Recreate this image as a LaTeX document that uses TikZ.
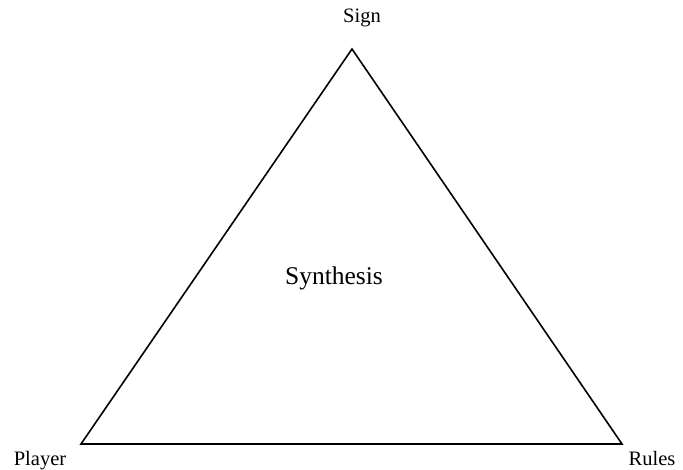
\documentclass[tikz,border=0pt]{standalone}
\usepackage{fontspec}
\setmainfont{Liberation Serif}
\begin{document}
\begin{tikzpicture}[x=1pt,y=1pt,
  lbl/.style={anchor=base,inner sep=0pt,font=\fontsize{20.5}{24}\selectfont},
  big/.style={anchor=base,inner sep=0pt,font=\fontsize{25.5}{30}\selectfont},
  edge/.style={line width=1.6pt,line join=miter}]
\useasboundingbox (0,0) rectangle (683,470);
\coordinate (S) at (352,421);
\coordinate (P) at (81,26);
\coordinate (R) at (622,26);
\draw[edge] (S) -- (P) -- (R) -- cycle;
\node[lbl] (sign) at (362,447) {Sign};
\node[lbl] (player) at (40,4) {Player};
\node[lbl] (rules) at (652,4) {Rules};
\node[big] (syn) at (334,185) {Synthesis};
\end{tikzpicture}
\end{document}
